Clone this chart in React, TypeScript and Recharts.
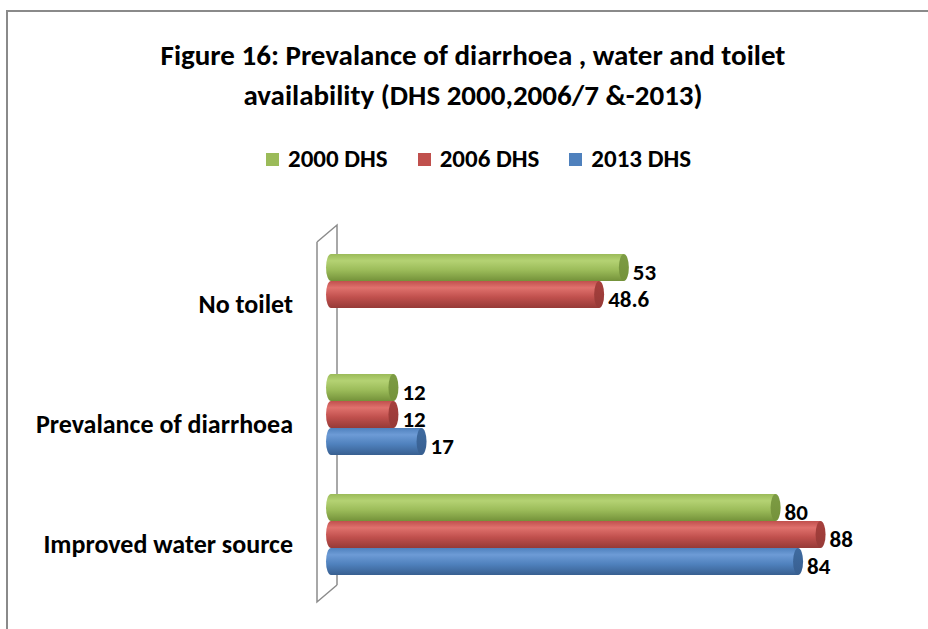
import React from "react";
import { BarChart, Bar, XAxis, YAxis, LabelList, usePlotArea } from "recharts";

const categories = ["No toilet", "Prevalance of diarrhoea", "Improved water source"];
const dhs2000 = [53, 12, 80];
const dhs2006 = [48.6, 12, 88];
const dhs2013: (number | null)[] = [null, 17, 84];
const seriesNames = ["2000 DHS", "2006 DHS", "2013 DHS"];

const FONT = "Carlito, 'Liberation Sans Narrow', 'Open Sans', sans-serif";

const SERIES = [
  { key: "d2000", name: seriesNames[0], base: "#9BBB59", light: "#b4d273", dark: "#74923a", cap: "#7d9c44" },
  { key: "d2006", name: seriesNames[1], base: "#C0504D", light: "#e0716d", dark: "#963a37", cap: "#a7403d" },
  { key: "d2013", name: seriesNames[2], base: "#4F81BD", light: "#6d9bd6", dark: "#385f90", cap: "#3f6ba0" },
];

const data = categories.map((category, i) => ({
  category,
  d2000: dhs2000[i],
  d2006: dhs2006[i],
  d2013: dhs2013[i],
}));

const CAP_RX = 5;

function makeCylinder(id: string) {
  return function Cylinder(props: any) {
    const { x, y, width, height } = props;
    if (!width || width <= 0) return null;
    const ry = height / 2;
    const rx = CAP_RX;
    const body = `M${x + rx},${y} H${x + width} V${y + height} H${x + rx} A${rx},${ry} 0 0 1 ${x + rx},${y} Z`;
    return (
      <g>
        <path d={body} fill={`url(#body-${id})`} />
        <ellipse cx={x + width} cy={y + ry} rx={rx} ry={ry} fill={`url(#cap-${id})`} />
      </g>
    );
  };
}

function ValueLabel(props: any) {
  const { x, y, width, height, value } = props;
  if (value == null) return null;
  return (
    <text
      x={x + width + CAP_RX + 4}
      y={y + height / 2 + 4}
      dominantBaseline="central"
      fontFamily={FONT}
      fontWeight="bold"
      fontSize={23}
      fill="#000"
    >
      {value}
    </text>
  );
}

function CategoryTick(props: any) {
  const { x, y, payload } = props;
  return (
    <text
      x={x}
      y={y + 10}
      textAnchor="end"
      dominantBaseline="central"
      fontFamily={FONT}
      fontWeight="bold"
      fontSize={26}
      fill="#000"
    >
      {payload.value}
    </text>
  );
}

// 3D back wall drawn from the plot area
function BackWall() {
  const p = usePlotArea();
  if (!p) return null;
  const lx = p.x - 9;
  const rx = p.x + 11;
  const top = p.y;
  const bot = p.y + p.height;
  return (
    <path
      d={`M${lx},${top + 8} L${rx},${top - 9} L${rx},${bot - 9} M${lx},${top + 8} L${lx},${bot + 8} L${rx},${bot - 9}`}
      fill="none"
      stroke="#8c8c8c"
      strokeWidth={1.5}
    />
  );
}

export default function App() {
  return (
    <div
      style={{
        position: "absolute",
        left: 0,
        top: 0,
        width: 928,
        height: 629,
        background: "#fff",
        fontFamily: FONT,
      }}
    >
      <div
        style={{
          position: "absolute",
          left: 6,
          top: 10,
          width: 922,
          height: 619,
          borderTop: "2px solid #8a8a8a",
          borderLeft: "2px solid #8a8a8a",
        }}
      />
      <div
        style={{
          position: "absolute",
          left: 10,
          top: 35,
          width: 926,
          textAlign: "center",
          fontWeight: "bold",
          fontSize: 29,
          lineHeight: "40px",
          color: "#000",
        }}
      >
        Figure 16: Prevalance of diarrhoea , water and toilet
        <br />
        availability (DHS 2000,2006/7 &amp;-2013)
      </div>
      <div
        style={{
          position: "absolute",
          left: 0,
          top: 144,
          width: 957,
          display: "flex",
          justifyContent: "center",
          gap: 30,
          fontWeight: "bold",
          fontSize: 25,
          lineHeight: "30px",
        }}
      >
        {SERIES.map((s) => (
          <div key={s.key} style={{ display: "flex", alignItems: "center" }}>
            <span style={{ width: 13, height: 13, background: s.base, marginRight: 9, display: "inline-block" }} />
            <span>{s.name}</span>
          </div>
        ))}
      </div>
      <div style={{ position: "absolute", left: 0, top: 0 }}>
        <BarChart
          width={928}
          height={629}
          data={data}
          layout="vertical"
          margin={{ top: 234, right: 40, bottom: 35, left: 0 }}
          barGap={0}
          barSize={27}
        >
          <defs>
            {SERIES.map((s) => (
              <React.Fragment key={s.key}>
                <linearGradient id={`body-${s.key}`} x1="0" y1="0" x2="0" y2="1">
                  <stop offset="0%" stopColor={s.base} />
                  <stop offset="25%" stopColor={s.light} />
                  <stop offset="60%" stopColor={s.base} />
                  <stop offset="100%" stopColor={s.dark} />
                </linearGradient>
                <linearGradient id={`cap-${s.key}`} x1="0" y1="0" x2="0" y2="1">
                  <stop offset="0%" stopColor={s.cap} />
                  <stop offset="100%" stopColor={s.dark} />
                </linearGradient>
              </React.Fragment>
            ))}
          </defs>
          <BackWall />
          <XAxis type="number" domain={[0, 100]} hide />
          <YAxis
            type="category"
            dataKey="category"
            width={326}
            axisLine={false}
            tickLine={false}
            tickSize={0}
            tickMargin={33}
            tick={<CategoryTick />}
            interval={0}
          />
          {SERIES.map((s) => (
            <Bar
              key={s.key}
              dataKey={s.key}
              name={s.name}
              fill={s.base}
              shape={makeCylinder(s.key)}
              isAnimationActive={false}
            >
              <LabelList dataKey={s.key} content={<ValueLabel />} />
            </Bar>
          ))}
        </BarChart>
      </div>
    </div>
  );
}
